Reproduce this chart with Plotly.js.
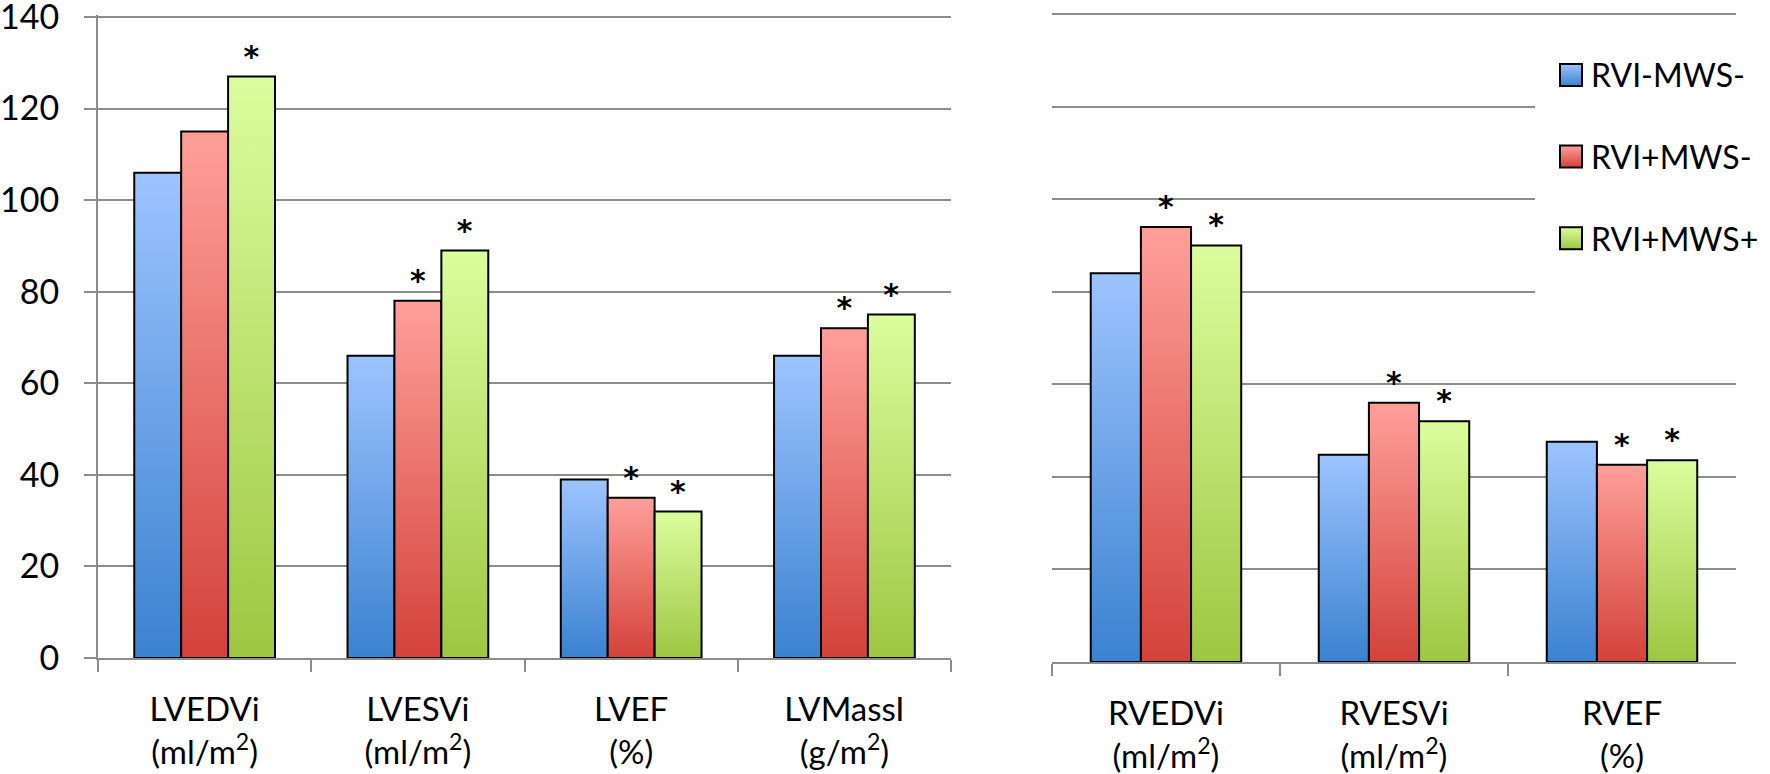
<!DOCTYPE html>
<html>
<head>
<meta charset="utf-8">
<script src="https://cdn.plot.ly/plotly-3.0.1.min.js"></script>
<style>
  html, body { margin: 0; padding: 0; background: #ffffff; }
  #chart { width: 1770px; height: 774px; }
</style>
</head>
<body>
<div id="chart"></div>
<script>
// ---- data ----
const seriesNames = ['RVI-MWS-', 'RVI+MWS-', 'RVI+MWS+'];

const lvCategories = ['LVEDVi<br>(ml/m<sup>2</sup>)', 'LVESVi<br>(ml/m<sup>2</sup>)', 'LVEF<br>(%)', 'LVMassI<br>(g/m<sup>2</sup>)'];
const rvCategories = ['RVEDVi<br>(ml/m<sup>2</sup>)', 'RVESVi<br>(ml/m<sup>2</sup>)', 'RVEF<br>(%)'];

const lvSeries1 = [106, 66, 39, 66];
const lvSeries2 = [115, 78, 35, 72];
const lvSeries3 = [127, 89, 32, 75];

const rvSeries1 = [84, 44.8, 47.6];
const rvSeries2 = [94, 56, 42.6];
const rvSeries3 = [90, 52, 43.6];

const lvStars1 = ['', '', '', ''];
const lvStars2 = ['', '*', '*', '*'];
const lvStars3 = ['*', '*', '*', '*'];
const rvStars1 = ['', '', ''];
const rvStars2 = ['*', '*', '*'];
const rvStars3 = ['*', '*', '*'];

const yTickVals = [0, 20, 40, 60, 80, 100, 120, 140];

// ---- styles ----
const gradTop = ['#9dc4ff', '#ff9f9a', '#dcfd9d'];
const gradBottom = ['#3a82d0', '#d3423a', '#9dc742'];
const FONT = 'Lato, "Open Sans", sans-serif';
const GRID = '#8c8c8c';

const lvData = [lvSeries1, lvSeries2, lvSeries3];
const rvData = [rvSeries1, rvSeries2, rvSeries3];
const lvStars = [lvStars1, lvStars2, lvStars3];
const rvStars = [rvStars1, rvStars2, rvStars3];

function makeTrace(i, cats, vals, stars, xa, ya, showlegend) {
  return {
    type: 'bar',
    name: seriesNames[i],
    legendgroup: 'g' + i,
    showlegend: showlegend,
    x: cats,
    y: vals,
    xaxis: xa,
    yaxis: ya,
    text: stars,
    textposition: 'outside',
    cliponaxis: false,
    constraintext: 'none',
    textfont: { family: '"DejaVu Sans", sans-serif', size: 30, color: '#000000', weight: 'bold' },
    outsidetextfont: { family: '"DejaVu Sans", sans-serif', size: 30, color: '#000000', weight: 'bold' },
    marker: { color: gradTop[i], line: { color: '#000000', width: 2 } },
    hoverinfo: 'skip'
  };
}

const traces = [];
for (let i = 0; i < 3; i++) traces.push(makeTrace(i, lvCategories, lvData[i], lvStars[i], 'x', 'y', true));
for (let i = 0; i < 3; i++) traces.push(makeTrace(i, rvCategories, rvData[i], rvStars[i], 'x2', 'y2', false));

const xCommon = {
  type: 'category',
  showline: true, linecolor: GRID, linewidth: 2,
  ticks: 'outside', tickson: 'boundaries', ticklen: 12, tickwidth: 2, tickcolor: GRID,
  showgrid: false, zeroline: false,
  tickfont: { family: FONT, size: 33, color: '#000000' },
  ticklabelstandoff: 21,
  ticklabeloverflow: 'allow',
  fixedrange: true
};

const layout = {
  width: 1770, height: 774,
  margin: { l: 98, r: 34, t: 10, b: 112, autoexpand: false },
  paper_bgcolor: '#ffffff', plot_bgcolor: 'rgba(0,0,0,0)',
  barmode: 'group', bargap: 0.34, bargroupgap: 0,
  showlegend: true,
  legend: {
    x: 0.8773, xanchor: 'left', y: 0.9667, yanchor: 'top',
    bgcolor: '#ffffff', bordercolor: '#ffffff', borderwidth: 16,
    font: { family: FONT, size: 32, color: '#000000' },
    traceorder: 'grouped', tracegroupgap: 37
  },
  xaxis: Object.assign({}, xCommon, { domain: [0, 0.5208], anchor: 'y' }),
  xaxis2: Object.assign({}, xCommon, { domain: [0.5824, 1.0], anchor: 'y2' }),
  yaxis: {
    domain: [0.0061, 0.9928], range: [0, 140.5], anchor: 'x',
    tickmode: 'array', tickvals: yTickVals, ticktext: yTickVals.map(String),
    showgrid: true, gridcolor: GRID, gridwidth: 2,
    showline: true, linecolor: GRID, linewidth: 2,
    ticks: 'outside', ticklen: 12, tickwidth: 2, tickcolor: GRID,
    zeroline: false,
    tickfont: { family: FONT, size: 34, color: '#000000' },
    ticklabelstandoff: 18,
    ticklabeloverflow: 'allow',
    fixedrange: true
  },
  yaxis2: {
    domain: [0, 0.9974], range: [0, 140.5], anchor: 'x2',
    tickmode: 'array', tickvals: yTickVals,
    showgrid: true, gridcolor: GRID, gridwidth: 2,
    showline: false, ticks: '', showticklabels: false,
    zeroline: false, fixedrange: true
  }
};

function applyGradients(gd) {
  const ns = 'http://www.w3.org/2000/svg';
  const svg = gd.querySelector('.main-svg');
  let defs = svg.querySelector('defs');
  if (!defs) { defs = document.createElementNS(ns, 'defs'); svg.insertBefore(defs, svg.firstChild); }
  for (let i = 0; i < 3; i++) {
    const lg = document.createElementNS(ns, 'linearGradient');
    lg.setAttribute('id', 'barGrad' + i);
    lg.setAttribute('x1', '0'); lg.setAttribute('y1', '0');
    lg.setAttribute('x2', '0'); lg.setAttribute('y2', '1');
    const s1 = document.createElementNS(ns, 'stop');
    s1.setAttribute('offset', '0'); s1.setAttribute('stop-color', gradTop[i]);
    const s2 = document.createElementNS(ns, 'stop');
    s2.setAttribute('offset', '1'); s2.setAttribute('stop-color', gradBottom[i]);
    lg.appendChild(s1); lg.appendChild(s2);
    defs.appendChild(lg);
  }
  gd.querySelectorAll('.barlayer').forEach(layer => {
    layer.querySelectorAll('g.trace.bars').forEach((tr, i) => {
      tr.querySelectorAll('path').forEach(p => { p.style.fill = 'url(#barGrad' + (i % 3) + ')'; });
    });
  });
  gd.querySelectorAll('.legend .traces').forEach((tr, i) => {
    tr.querySelectorAll('.legendpoints path').forEach(p => {
      p.setAttribute('d', 'M11,11H-11V-11H11Z');
      p.style.fill = 'url(#barGrad' + (i % 3) + ')';
      p.style.strokeWidth = '2px';
    });
  });
  // extend the legend background downwards so it hides the 80 gridline as in the reference
  const bg = gd.querySelector('.legend rect.bg');
  if (bg) {
    const h = parseFloat(bg.getAttribute('height')) || 0;
    bg.setAttribute('height', String(h + 40));
  }
}

Plotly.newPlot('chart', traces, layout, { displayModeBar: false, staticPlot: true })
  .then(gd => applyGradients(gd));
</script>
</body>
</html>
